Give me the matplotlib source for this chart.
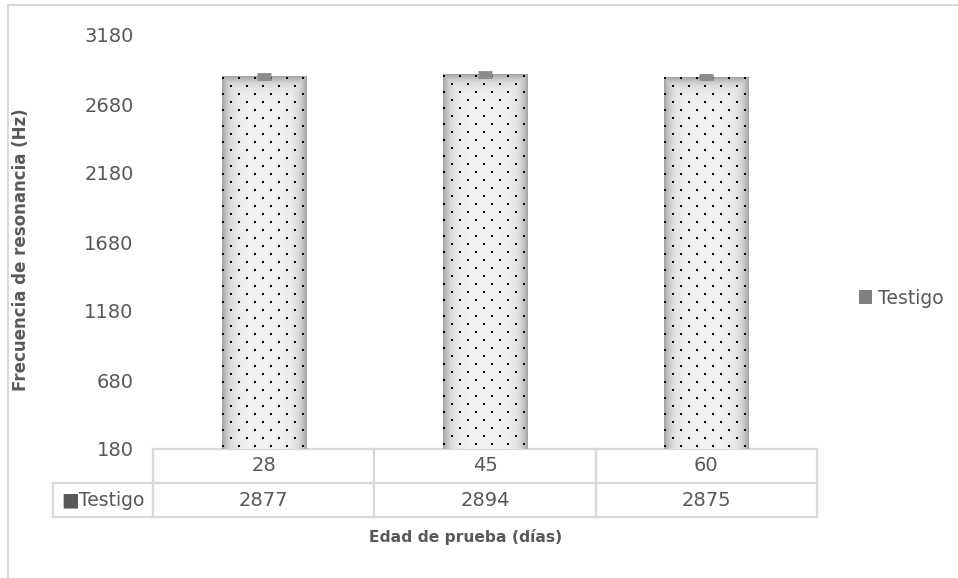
import numpy as np
import matplotlib
matplotlib.use("Agg")
import matplotlib.pyplot as plt
from matplotlib.patches import Patch
from matplotlib.lines import Line2D

# series data
ages = ["28", "45", "60"]
series_name = "Testigo"
freq = [2877, 2894, 2875]
freq_err = [10, 10, 10]
y_ticks = [180, 680, 1180, 1680, 2180, 2680, 3180]

TEXT = "#595959"
GRID = "#d9d9d9"

plt.rcParams["font.family"] = ["DejaVu Sans"]

W, H, DPI = 958, 578, 100
fig = plt.figure(figsize=(W / DPI, H / DPI), dpi=DPI)
ax = fig.add_axes([153 / W, 1 - 449 / H, (817 - 153) / W, (449 - 35) / H])

x = np.arange(len(ages))
bar_w = 0.38
ax.set_xlim(-0.5, len(ages) - 0.5)
ax.set_ylim(y_ticks[0], y_ticks[-1])

# pixel scale of the data axes, used for the bar texture
px_x = (817 - 153) / len(ages)
px_y = (449 - 35) / (y_ticks[-1] - y_ticks[0])

for xi, v in zip(x, freq):
    left, right = xi - bar_w / 2, xi + bar_w / 2
    # rectangular gradient: grey rim fading to a light centre
    nx = int(bar_w * px_x)
    ny = int(v * px_y)
    gx = np.arange(nx) + 0.5
    gy = np.arange(ny) + 0.5
    dx = np.minimum(gx, nx - gx)[None, :]
    dy = gy[:, None]  # distance from the top edge
    d = np.minimum(dx, dy)
    shade = 0.95 - 0.33 * np.exp(-d / 7.0)
    ax.imshow(shade, cmap="gray", vmin=0, vmax=1, aspect="auto",
              extent=(left, right, 0, v), origin="upper",
              interpolation="bilinear", zorder=2)
    # staggered dot pattern
    sx = 16 / px_x
    sy = 8 / px_y
    rows = np.arange(v, 0, -sy)
    dots_x, dots_y = [], []
    for k, ry in enumerate(rows):
        off = 0 if k % 2 == 0 else sx / 2
        cols = np.arange(left + off + 1.2 / px_x, right, sx)
        dots_x.extend(cols)
        dots_y.extend([ry - 1.2 / px_y] * len(cols))
    ax.scatter(dots_x, dots_y, s=2.4, marker="s", color="black",
               linewidths=0, zorder=3)

ax.errorbar(x, freq, yerr=freq_err, fmt="none", ecolor="#8c8c8c",
            elinewidth=1, capsize=4.7, capthick=3.5, zorder=4)

ax.set_yticks(y_ticks)
ax.set_yticklabels([str(t) for t in y_ticks])
ax.tick_params(axis="y", length=0, pad=14, labelsize=14, labelcolor=TEXT)
ax.set_xticks([])
for s in ax.spines.values():
    s.set_visible(False)

ax.set_ylabel("Frecuencia de resonancia (Hz)", fontsize=12,
              fontweight="bold", color=TEXT)
ax.yaxis.set_label_coords(-(153 - 30) / (817 - 153), (449 - 250) / (449 - 35))

# data table under the plot area; the bbox covers the value cells only,
# the series label column hangs off to the left
label_w = (153 - 53) / (817 - 153)
tbl = ax.table(cellText=[[str(v) for v in freq]],
               rowLabels=["\u25A0" + series_name],
               colLabels=ages,
               colWidths=[1 / 3] * 3,
               cellLoc="center", rowLoc="center",
               bbox=[0, -(517 - 449) / (449 - 35), 1, (517 - 449) / (449 - 35)])
tbl._autoColumns = []
tbl.auto_set_font_size(False)
for (r, c), cell in tbl.get_celld().items():
    cell.set_edgecolor(GRID)
    cell.set_linewidth(1.6)
    cell.get_text().set_color(TEXT)
    cell.get_text().set_fontsize(14)
    if c == -1:
        cell.set_width(label_w)
        cell.get_text().set_fontsize(13.5)

fig.text(466 / W, 1 - 537 / H, "Edad de prueba (días)", ha="center",
         va="center", fontsize=11.2, fontweight="bold", color=TEXT)

fig.legend(handles=[Patch(facecolor="#808080", edgecolor="none")],
           labels=[series_name], loc="center left",
           bbox_to_anchor=(842 / W, 1 - 298 / H), frameon=False,
           handlelength=0.7, handleheight=0.7, handletextpad=0.3,
           prop={"size": 13.5}, labelcolor=TEXT)

# outer chart border
fig.add_artist(Line2D([8 / W, 8 / W], [0, 1 - 5 / H], color=GRID, lw=1.5))
fig.add_artist(Line2D([8 / W, 1], [1 - 5 / H, 1 - 5 / H], color=GRID, lw=1.5))

fig.savefig("out.png", dpi=DPI, facecolor="white")
